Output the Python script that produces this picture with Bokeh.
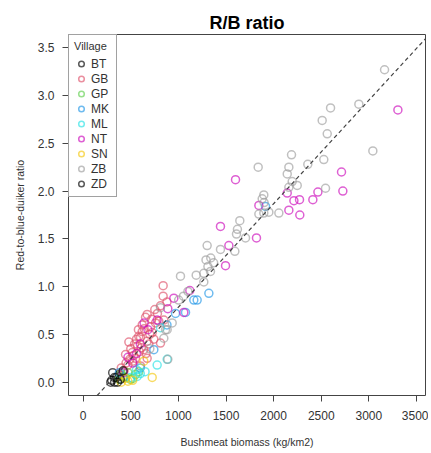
from bokeh.plotting import figure
from bokeh.models import Range1d, FixedTicker, Slope, Legend, LegendItem
from bokeh.embed import file_html
from bokeh.resources import INLINE

FONT = "Liberation Sans"

villages = ["BT", "GB", "GP", "MK", "ML", "NT", "SN", "ZB", "ZD"]
colors = ["#000000", "#DF536B", "#61D04F", "#2297E6", "#28E2E5", "#CD0BBC", "#F5C710", "#9E9E9E", "#000000"]

BT_x = [300, 330, 350, 310, 380, 420]
BT_y = [0.02, 0.00, 0.05, 0.10, 0.08, 0.05]
GB_x = [840, 840, 752, 655, 794, 672, 812, 880, 847, 760, 707, 620, 725, 584, 602, 480, 672, 812, 570, 637,
        515, 445, 672, 520, 470, 602, 560, 540, 742, 500, 450, 400, 620, 700, 580, 780, 660, 550, 610, 690,
        530, 430, 490, 640, 720, 590]
GB_y = [1.01, 0.90, 0.76, 0.68, 0.64, 0.71, 0.80, 0.84, 0.65, 0.62, 0.58, 0.53, 0.52, 0.48, 0.47, 0.42, 0.43, 0.41, 0.38, 0.34,
        0.31, 0.29, 0.25, 0.22, 0.18, 0.17, 0.45, 0.40, 0.45, 0.35, 0.20, 0.15, 0.60, 0.50, 0.55, 0.72, 0.30, 0.25, 0.36, 0.40,
        0.28, 0.12, 0.24, 0.56, 0.66, 0.32]
GP_x = [584, 445, 497, 420, 550, 470, 380, 520, 400]
GP_y = [0.11, 0.05, 0.03, 0.06, 0.08, 0.10, 0.03, 0.04, 0.09]
MK_x = [1915, 1320, 1162, 1197, 970, 742, 1075, 380, 600, 880]
MK_y = [1.84, 0.93, 0.86, 0.86, 0.72, 0.34, 0.73, 0.10, 0.15, 0.60]
ML_x = [777, 812, 567, 600, 882, 500, 650, 560]
ML_y = [0.18, 0.57, 0.06, 0.09, 0.24, 0.05, 0.11, 0.13]
NT_x = [1120, 1057, 889, 777, 952, 600, 560, 520, 1442, 1530, 1820, 1495, 1600, 1845, 2143, 2160, 2213, 2272,
        2275, 2412, 2465, 2713, 2727, 3305, 680, 420, 640, 470]
NT_y = [0.96, 0.73, 0.77, 0.65, 0.88, 0.40, 0.30, 0.20, 1.63, 1.43, 1.51, 1.22, 2.12, 1.85, 1.98, 1.80, 1.90, 1.91,
        1.75, 1.91, 1.99, 2.20, 2.00, 2.85, 0.55, 0.10, 0.62, 0.26]
SN_x = [725, 637, 445, 520, 400, 470]
SN_y = [0.05, 0.22, 0.04, 0.02, 0.00, 0.01]
ZB_x = [3165, 2895, 2598, 2510, 2563, 3042, 2188, 1838, 2160, 2143, 2359, 2527, 2195, 2248, 2160, 2545, 1897, 1880,
        1845, 1897, 1950, 2055, 1645, 1610, 1705, 1442, 1593, 1302, 1310, 1340, 1370, 1290, 1267, 1337, 1187, 1022,
        1267, 1053, 1003, 812, 882, 847, 889, 935, 865, 1900, 1100, 700, 1620]
ZB_y = [3.27, 2.91, 2.87, 2.74, 2.60, 2.42, 2.38, 2.25, 2.25, 2.18, 2.28, 2.33, 2.10, 2.06, 2.04, 2.03, 1.96, 1.92,
        1.76, 1.77, 1.78, 1.77, 1.69, 1.55, 1.51, 1.39, 1.37, 1.43, 1.21, 1.30, 1.25, 1.28, 1.14, 1.16, 1.12, 1.11,
        1.05, 0.90, 0.86, 0.78, 0.55, 0.46, 0.24, 0.62, 0.55, 1.88, 0.95, 0.35, 1.60]
ZD_x = [330, 360, 290, 420, 390]
ZD_y = [0.05, 0.00, 0.00, 0.12, 0.03]

series = {
    "BT": (BT_x, BT_y), "GB": (GB_x, GB_y), "GP": (GP_x, GP_y), "MK": (MK_x, MK_y), "ML": (ML_x, ML_y),
    "NT": (NT_x, NT_y), "SN": (SN_x, SN_y), "ZB": (ZB_x, ZB_y), "ZD": (ZD_x, ZD_y),
}

fit_intercept = -0.298
fit_slope = 0.001083

x_ticks = [0, 500, 1000, 1500, 2000, 2500, 3000, 3500]
y_ticks = [0.0, 0.5, 1.0, 1.5, 2.0, 2.5, 3.0, 3.5]
y_tick_labels = ["0.0", "0.5", "1.0", "1.5", "2.0", "2.5", "3.0", "3.5"]

p = figure(width=428, height=450, output_backend="svg", toolbar_location=None,
           x_range=Range1d(-154, 3595), y_range=Range1d(-0.139, 3.639),
           min_border_left=68, min_border_right=3, min_border_top=34, min_border_bottom=54,
           title="R/B ratio")
p.title.text_font = FONT
p.title.text_font_size = "18px"
p.title.text_font_style = "bold"
p.title.align = "center"
p.title.standoff = 4
p.title.text_color = "#000000"

p.xgrid.grid_line_color = None
p.ygrid.grid_line_color = None
p.outline_line_color = "#444444"
p.outline_line_width = 1
p.background_fill_color = "white"
p.border_fill_color = "white"

for ax in (p.xaxis[0], p.yaxis[0]):
    ax.axis_line_color = None
    ax.major_tick_in = 0
    ax.major_tick_out = 6
    ax.major_tick_line_color = "#444444"
    ax.minor_tick_line_color = None
    ax.major_label_text_font = FONT
    ax.major_label_text_font_size = "12px"
    ax.major_label_text_color = "#333333"
    ax.axis_label_text_font = FONT
    ax.axis_label_text_font_size = "10.5px"
    ax.axis_label_text_font_style = "normal"
    ax.axis_label_text_color = "#333333"

p.xaxis[0].ticker = FixedTicker(ticks=x_ticks)
p.yaxis[0].ticker = FixedTicker(ticks=y_ticks)
p.yaxis[0].major_label_overrides = {t: l for t, l in zip(y_ticks, y_tick_labels)}
p.xaxis[0].axis_label = "Bushmeat biomass (kg/km2)"
p.yaxis[0].axis_label = "Red-to-blue-duiker ratio"
p.xaxis[0].major_label_standoff = 9
p.xaxis[0].axis_label_standoff = 13
p.yaxis[0].major_label_standoff = 8
p.yaxis[0].axis_label_standoff = 9

p.add_layout(Slope(gradient=fit_slope, y_intercept=fit_intercept, line_color="#444444",
                   line_dash="4 3", line_width=1.2))

items = []
for v, c in zip(villages, colors):
    xs, ys = series[v]
    r = p.scatter(xs, ys, marker="circle", size=8, fill_color=None, line_color=c,
                  line_alpha=0.65, line_width=1.5)
    items.append(LegendItem(label=v, renderers=[r]))

legend = Legend(items=items, location="top_left", title="Village")
legend.margin = 0
legend.padding = 5
legend.spacing = 0
legend.label_height = 15
legend.glyph_height = 15
legend.glyph_width = 14
legend.label_standoff = 3
legend.title_standoff = 4
legend.label_text_font = FONT
legend.label_text_font_size = "12px"
legend.label_text_color = "#333333"
legend.title_text_font = FONT
legend.title_text_font_size = "11px"
legend.title_text_font_style = "normal"
legend.title_text_color = "#333333"
legend.border_line_color = "#444444"
legend.border_line_width = 1
legend.background_fill_color = "white"
legend.background_fill_alpha = 1.0
p.add_layout(legend)

open("out.html", "w").write(file_html(p, INLINE))
